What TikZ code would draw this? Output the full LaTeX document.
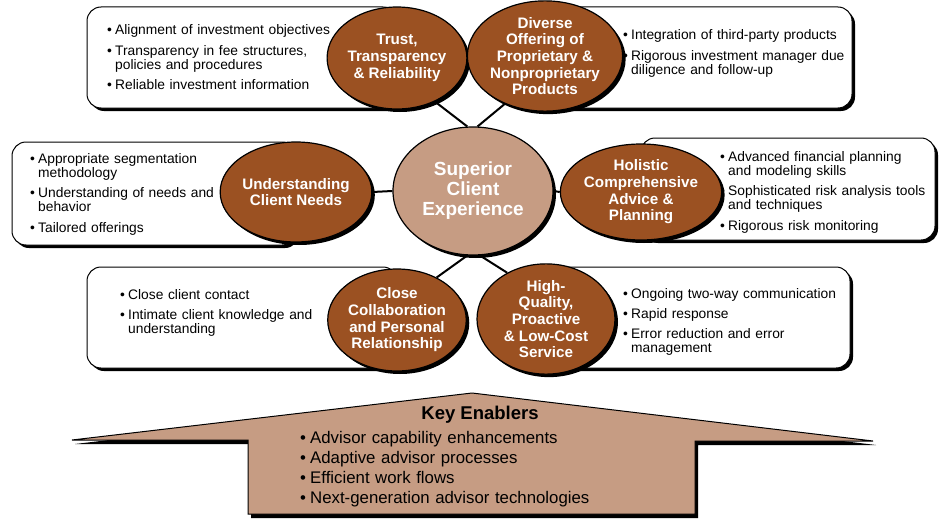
\documentclass[tikz,border=0pt]{standalone}
\usepackage{fontspec}
\setmainfont{Liberation Sans}
\usetikzlibrary{shapes.geometric,shadows}
\definecolor{brownE}{HTML}{9B5122}
\definecolor{tanE}{HTML}{C69C83}
\newcommand{\bitem}[1]{\hangindent=8pt\hangafter=1\noindent\makebox[8pt][l]{\textbullet}#1\par}
\newcommand{\kitem}[1]{\hangindent=10pt\hangafter=1\noindent\makebox[10pt][l]{\textbullet}#1\par}
\newcommand{\igap}{\vspace{6pt}}
\tikzset{
 shad/.style={drop shadow={shadow xshift=3pt,shadow yshift=-3pt,fill=black,opacity=1}},
 box/.style={draw=black,line width=1pt,fill=white,rounded corners=14pt,shad,inner sep=0pt},
 oval/.style={ellipse,draw=black,line width=1.2pt,fill=brownE,shad,inner sep=0pt,text=white,font=\bfseries\fontsize{15.2}{16.7}\selectfont,align=center},
 core/.style={oval,fill=tanE,font=\bfseries\fontsize{19}{20}\selectfont},
 btext/.style={anchor=base west,inner sep=0pt,text width=320pt,align=left,font=\fontsize{13.8}{14.3}\selectfont},
 link/.style={line width=2pt,draw=black},
 arrowshape/.style={fill=tanE,draw=black,line width=1pt,drop shadow={shadow xshift=3pt,shadow yshift=-4pt,fill=black,opacity=1}},
}
\begin{document}
\begin{tikzpicture}[x=1pt,y=-1pt]
\useasboundingbox (0,0) rectangle (942,519);
% boxes
\node[box,minimum width=310pt,minimum height=101pt] (bTL) at (242,57.5) {};
\node[box,minimum width=307pt,minimum height=101pt] (bTR) at (698.5,57.5) {};
\node[box,minimum width=284pt,minimum height=103pt] (bML) at (154,193.5) {};
\node[box,minimum width=294pt,minimum height=102pt] (bMR) at (788,189) {};
\node[box,minimum width=310pt,minimum height=101pt] (bBL) at (242,317.5) {};
\node[box,minimum width=304pt,minimum height=101pt] (bBR) at (698,317.5) {};
% box texts
\node[btext] (tTL) at (107,35) {\bitem{Alignment of investment objectives}\igap
\bitem{Transparency in fee structures,\newline policies and procedures}\igap
\bitem{Reliable investment information}};
\node[btext] (tTR) at (623,40) {\bitem{Integration of third-party products}\igap
\bitem{Rigorous investment manager due\newline diligence and follow-up}};
\node[btext] (tML) at (30,163) {\bitem{Appropriate segmentation\newline methodology}\igap
\bitem{Understanding of needs and\newline behavior}\igap
\bitem{Tailored offerings}};
\node[btext] (tMR) at (720,161) {\bitem{Advanced financial planning\newline and modeling skills}\igap
\bitem{Sophisticated risk analysis tools\newline and techniques}\igap
\bitem{Rigorous risk monitoring}};
\node[btext] (tBL) at (120,299) {\bitem{Close client contact}\igap
\bitem{Intimate client knowledge and\newline understanding}};
\node[btext] (tBR) at (623,298) {\bitem{Ongoing two-way communication}\igap
\bitem{Rapid response}\igap
\bitem{Error reduction and error\newline management}};
% ellipses
\node[oval,minimum width=138pt,minimum height=102pt] (trust) at (397,58) {Trust,\\Transparency\\\& Reliability};
\node[oval,minimum width=136pt,minimum height=98pt] (div) at (545,56) {Diverse\\Offering of\\Proprietary \&\\Nonproprietary\\Products};
\node[oval,minimum width=138pt,minimum height=100pt] (und) at (296,192) {Understanding\\Client Needs};
\node[oval,minimum width=137pt,minimum height=96pt] (hol) at (641,192) {Holistic\\Comprehensive\\Advice \&\\Planning};
\node[oval,minimum width=138pt,minimum height=102pt] (clo) at (397,320) {Close\\Collaboration\\and Personal\\Relationship};
\node[oval,minimum width=138pt,minimum height=102pt] (hq) at (546,319) {High-\\Quality,\\Proactive\\\& Low-Cost\\Service};
\node[core,minimum width=160pt,minimum height=128pt] (core) at (473,191) {Superior\\Client\\Experience};
% connectors
\draw[link] (trust.-49) -- (core.95);
\draw[link] (div.-130) -- (core.86);
\draw[link] (und.east) -- (core.west);
\draw[link] (core.east) -- (hol.west);
\draw[link] (clo.47) -- (core.-95);
\draw[link] (hq.130) -- (core.-84);
% key enablers arrow
\draw[arrowshape] (472,393) -- (873,441) -- (695,441) -- (695,514) -- (248,514) -- (248,440) -- (72,440) -- cycle;
\node[font=\bfseries\fontsize{18.5}{20}\selectfont,inner sep=0pt] (ke) at (480,415) {Key Enablers};
\node[anchor=base west,inner sep=0pt,text width=400pt,align=left,font=\fontsize{16.8}{20.3}\selectfont] (kel) at (300,443) {\kitem{Advisor capability enhancements}
\kitem{Adaptive advisor processes}
\kitem{Efficient work flows}
\kitem{Next-generation advisor technologies}};
\end{tikzpicture}
\end{document}
